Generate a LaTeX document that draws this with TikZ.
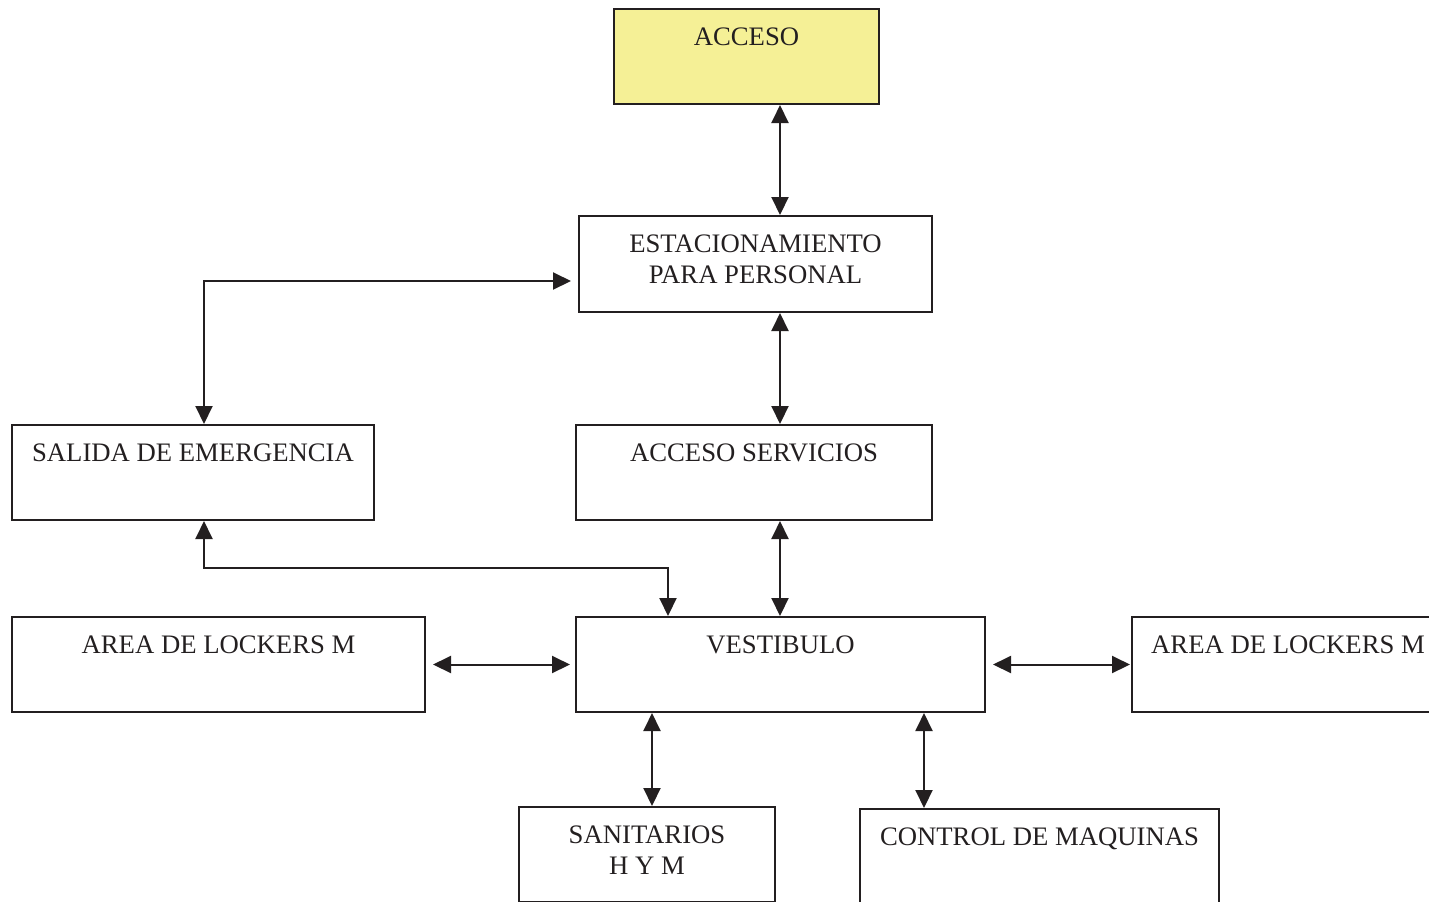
\documentclass[tikz,border=0pt]{standalone}
\usepackage{fontspec}
\setmainfont{Liberation Serif}
\usetikzlibrary{arrows.meta, calc}
\definecolor{ink}{HTML}{231F20}
\definecolor{accyellow}{HTML}{F5F096}

\begin{document}
\begin{tikzpicture}[x=0.5pt, y=-0.5pt, >={Triangle[length=9pt,width=8.5pt]},
    font=\fontsize{13.35pt}{15.5pt}\selectfont,
    room/.style={draw=ink, line width=1pt, inner sep=0pt},
    title/.style={label={[anchor=north, inner sep=0pt, yshift=-9.5pt, align=center, text=ink]north:{#1}}},
    link/.style={<->, draw=ink, line width=1pt}]
  \useasboundingbox (0,0) rectangle (1429,901);
  % rooms
  \node[room, fill=accyellow, minimum width=132.5pt, minimum height=47.5pt, title={ACCESO}] (acceso) at (746.5,56.5) {};
  \node[room, minimum width=176.5pt, minimum height=48pt, title={ESTACIONAMIENTO\\PARA PERSONAL}] (estac) at (755.5,264) {};
  \node[room, minimum width=181pt, minimum height=47.5pt, title={SALIDA DE EMERGENCIA}] (salida) at (193,472.5) {};
  \node[room, minimum width=178pt, minimum height=47.5pt, title={ACCESO SERVICIOS}] (serv) at (754,472.5) {};
  \node[room, minimum width=206.5pt, minimum height=47.5pt, title={AREA DE LOCKERS M}] (lockL) at (218.5,664.5) {};
  \node[room, minimum width=204.5pt, minimum height=47.5pt, title={VESTIBULO}] (vest) at (780.5,664.5) {};
  \node[room, minimum width=156pt, minimum height=47.5pt, title={AREA DE LOCKERS M}] (lockR) at (1288,664.5) {};
  \node[room, minimum width=128pt, minimum height=47.5pt, title={SANITARIOS\\H Y M}] (san) at (647,854.5) {};
  \node[room, minimum width=179.5pt, minimum height=47.5pt, title={CONTROL DE MAQUINAS}] (ctl) at (1039.5,856.5) {};
  % connector columns
  \coordinate (col) at (780,0);
  \coordinate (exitcol) at (204,0);
  \coordinate (vestin) at (668,568);
  \coordinate (sancol) at (652,0);
  \coordinate (ctlcol) at (924,0);
  % vertical links
  \draw[link] (acceso.south -| col) -- (estac.north -| col);
  \draw[link] (estac.south -| col) -- (serv.north -| col);
  \draw[link] (serv.south -| col) -- (vest.north -| col);
  \draw[link] (vest.south -| sancol) -- (san.north -| sancol);
  \draw[link] (vest.south -| ctlcol) -- (ctl.north -| ctlcol);
  % emergency exit links
  \draw[link, shorten >=3.5pt] (salida.north -| exitcol) |- ([yshift=-8.5pt]estac.west);
  \draw[link] (salida.south -| exitcol) |- (vestin) -- (vest.north -| vestin);
  % lockers
  \draw[link, shorten <=3.5pt, shorten >=2.5pt] (lockL.east) -- (vest.west);
  \draw[link, shorten <=3.5pt, shorten >=0.5pt] (vest.east) -- (lockR.west);
\end{tikzpicture}
\end{document}
